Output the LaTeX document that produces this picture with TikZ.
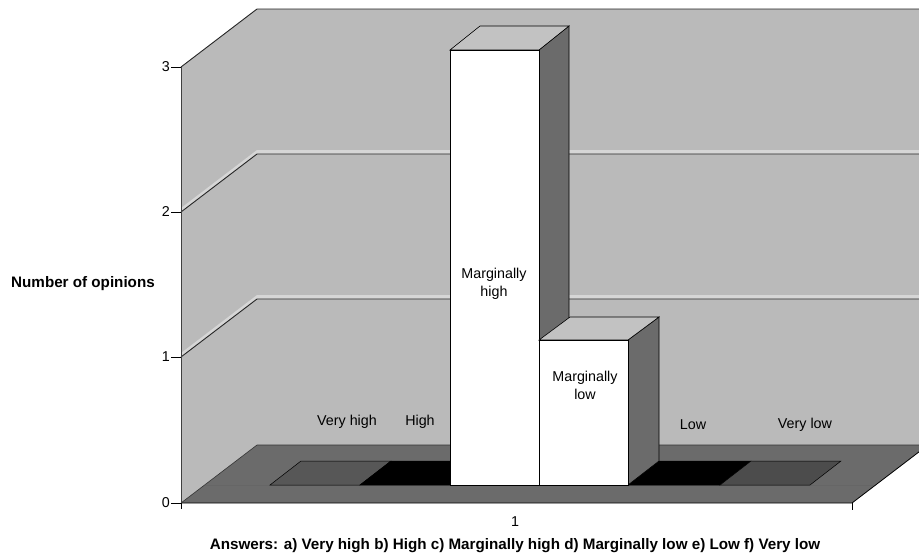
\documentclass[tikz,border=0pt]{standalone}
\usepackage{fontspec}
\setmainfont{Liberation Sans}
\definecolor{wallgray}{gray}{0.73}
\definecolor{wallhi}{gray}{0.84}
\definecolor{floorgray}{gray}{0.42}
\definecolor{sidegray}{gray}{0.42}
\definecolor{topgray}{gray}{0.76}
\definecolor{tileA}{gray}{0.34}
\definecolor{tileF}{gray}{0.30}
\tikzset{
  wall/.style={fill=wallgray},
  gridline/.style={draw=black!85, line width=0.9pt},
  edge/.style={draw=black, line width=0.6pt, line join=miter},
  ticklab/.style={font=\fontsize{14.3}{16}\selectfont, inner sep=1pt},
  datalab/.style={font=\fontsize{14.3}{18}\selectfont, align=center, inner sep=0pt},
  titlelab/.style={font=\bfseries\fontsize{15.2}{17}\selectfont, inner sep=0pt},
}
\begin{document}
\begin{tikzpicture}[x=1pt,y=-1pt]
\useasboundingbox (0,0) rectangle (919,555);
\begin{scope}
\clip (0,0) rectangle (919,555);
% corners of the box
\coordinate (fo) at (181,503);  % front origin
\coordinate (bo) at (257,445);  % back origin
\coordinate (ft) at (181,67);   % front top (value 3)
\coordinate (bt) at (257,9);    % back top
\coordinate (brt) at (925,9);
\coordinate (brb) at (925,445);
\coordinate (ff) at (852,503);  % floor front right
\coordinate (fb) at (928,445);  % floor back right
% walls
\fill[wall] (bt) -- (brt) -- (brb) -- (bo) -- cycle;
\fill[wall] (ft) -- (bt) -- (bo) -- (fo) -- cycle;
% highlight bands above gridlines
\fill[wallhi] (181,208) -- (257,150) -- (925,150) -- (925,154) -- (257,154) -- (181,212) -- cycle;
\fill[wallhi] (181,353) -- (257,295) -- (925,295) -- (925,299) -- (257,299) -- (181,357) -- cycle;
% gridlines
\draw[gridline] (ft) -- (bt) -- (brt);
\draw[gridline] (181,212) -- (257,154) -- (925,154);
\draw[gridline] (181,357) -- (257,299) -- (925,299);
% floor
\fill[floorgray] (fo) -- (ff) -- (fb) -- (bo) -- cycle;
\draw[black!80, line width=0.6pt] (fo) -- (bo) -- (fb);
\draw[black!60, line width=0.5pt] (205,485) -- (875,485);
% zero-height tiles
\filldraw[fill=tileA, draw=black, line width=0.5pt] (270,485) -- (360,485) -- (391,461) -- (301,461) -- cycle;
\filldraw[fill=black, draw=black, line width=0.5pt] (360,485) -- (450,485) -- (481,461) -- (391,461) -- cycle;
\filldraw[fill=black, draw=black, line width=0.5pt] (628,485) -- (720,485) -- (751,461) -- (659,461) -- cycle;
\filldraw[fill=tileF, draw=black, line width=0.5pt] (720,485) -- (810,485) -- (841,461) -- (751,461) -- cycle;
% bar c) Marginally high (3)
\filldraw[fill=sidegray, edge] (539,50) -- (569,26) -- (569,461) -- (539,485) -- cycle;
\filldraw[fill=topgray, edge] (450,50) -- (480,26) -- (569,26) -- (539,50) -- cycle;
\filldraw[fill=white, edge] (450,50) rectangle (539,485);
% bar d) Marginally low (1)
\filldraw[fill=sidegray, edge] (628,340) -- (659,317) -- (659,461) -- (628,485) -- cycle;
\filldraw[fill=topgray, edge] (539,340) -- (570,317) -- (659,317) -- (628,340) -- cycle;
\filldraw[fill=white, edge] (539,340) rectangle (628,485);
% floor front edge and axes
\draw[black, line width=0.8pt] (fo) -- (ff) -- (fb);
\draw[black!75, line width=0.8pt] (ft) -- (fo);
\end{scope}
% ticks
\coordinate (t0) at (171,503);
\coordinate (t1) at (171,357);
\coordinate (t2) at (171,212);
\coordinate (t3) at (171,67);
\draw[black, line width=0.7pt] (t0) -- (181,503) (t1) -- (181,357) (t2) -- (181,212) (t3) -- (181,67);
\draw[black, line width=0.7pt] (181,503) -- (181,509) (852,503) -- (852,510);
\node[ticklab, anchor=east] (l0) at (t0) {0};
\node[ticklab, anchor=east] (l1) at (t1) {1};
\node[ticklab, anchor=east] (l2) at (t2) {2};
\node[ticklab, anchor=east] (l3) at (t3) {3};
\node[ticklab] (cat1) at (515,522) {1};
% series labels
\node[ticklab] (va) at (347,422) {Very high};
\node[ticklab] (vb) at (420,422) {High};
\node[ticklab] (ve) at (693,425) {Low};
\node[ticklab] (vf) at (805,425) {Very low};
\node[datalab] (vc) at (494,284) {Marginally\\high};
\node[datalab] (vd) at (585,385) {Marginally\\low};
% titles
\node[titlelab] (ytitle) at (83,284) {Number of opinions};
\node[titlelab] (xtitle) at (515,546) {Answers: a) Very high b) High c) Marginally high d) Marginally low e) Low f) Very low};
\end{tikzpicture}
\end{document}
